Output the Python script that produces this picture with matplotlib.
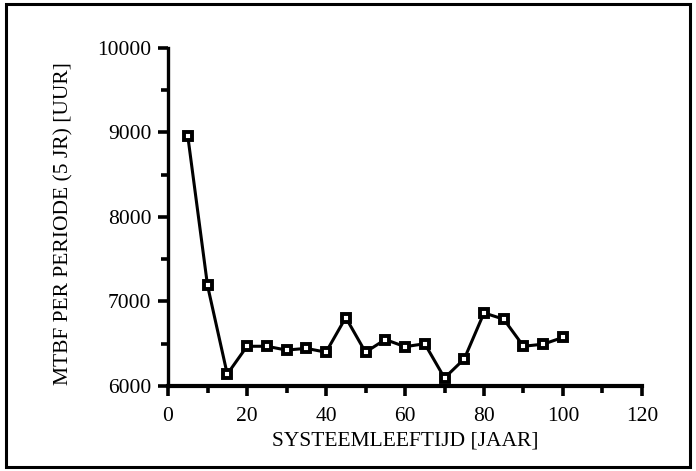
import matplotlib.pyplot as plt
from matplotlib.patches import Rectangle

# data
age = [5, 10, 15, 20, 25, 30, 35, 40, 45, 50,
       55, 60, 65, 70, 75, 80, 85, 90, 95, 100]
mtbf = [8960, 7190, 6140, 6470, 6470, 6425, 6445, 6400, 6810, 6400,
        6550, 6465, 6500, 6095, 6320, 6865, 6790, 6470, 6495, 6575]

x_ticks = [0, 20, 40, 60, 80, 100, 120]
y_ticks = [6000, 7000, 8000, 9000, 10000]

plt.rcParams['font.family'] = ['Liberation Serif', 'DejaVu Serif']

fig = plt.figure(figsize=(6.96, 4.71), dpi=100)
ax = fig.add_axes([0.2414, 0.1805, 0.681, 0.7176])

ax.plot(age, mtbf, color='black', linewidth=2.2, marker='s', markersize=6.4,
        markerfacecolor='white', markeredgecolor='black', markeredgewidth=2.8,
        clip_on=False)

ax.set_xlim(0, 120)
ax.set_ylim(6000, 10000)
ax.set_xticks(x_ticks)
ax.set_xticks(range(10, 120, 20), minor=True)
ax.set_yticks(y_ticks)
ax.set_yticks(range(6500, 10000, 1000), minor=True)
ax.tick_params(which='major', direction='out', length=7, width=2.6,
               labelsize=15.5, pad=5)
ax.tick_params(axis='x', which='major', pad=8)
ax.tick_params(which='minor', direction='out', length=5, width=2.6)

for s in ['top', 'right']:
    ax.spines[s].set_visible(False)
ax.spines['left'].set_linewidth(2.4)
ax.spines['bottom'].set_linewidth(3.0)

ax.set_xlabel('SYSTEEMLEEFTIJD [JAAR]', fontsize=15.5, labelpad=4)
ax.set_ylabel('MTBF PER PERIODE (5 JR) [UUR]', fontsize=15.5, labelpad=13)
ax.yaxis.set_label_coords(-0.2, 0.48)

# outer frame around the whole picture
fig.patches.append(Rectangle((0.008, 0.008), 0.984, 0.984,
                             transform=fig.transFigure, fill=False,
                             edgecolor='black', linewidth=2.2))

fig.savefig('out.png', dpi=100)
